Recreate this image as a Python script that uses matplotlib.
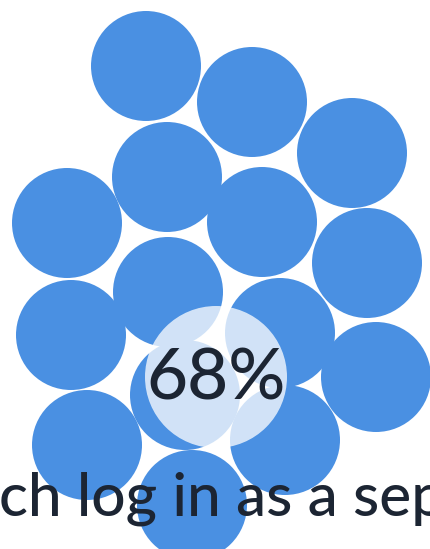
import matplotlib
matplotlib.use("Agg")
import matplotlib.pyplot as plt
from matplotlib.patches import Circle

# bubble centres (pixel coords, y down) and shared radius
cx = [146, 252, 352, 167, 67, 262, 367, 168, 71, 280, 376, 185, 87, 285, 192]
cy = [66, 102, 153, 177, 223, 222, 263, 292, 335, 333, 377, 395, 445, 440, 505]
radius = 55

# highlight bubble with the percentage
pct = 68
hl_x, hl_y, hl_r = 216, 377, 71

caption = "ch log in as a sep"

blue = "#4a90e2"
ink = "#1c2533"

fig = plt.figure(figsize=(4.30, 5.49), dpi=100)
ax = fig.add_axes([0, 0, 1, 1])
ax.set_xlim(0, 430)
ax.set_ylim(549, 0)
ax.set_aspect("equal")
ax.axis("off")

for x, y in zip(cx, cy):
    ax.add_patch(Circle((x, y), radius, facecolor=blue, edgecolor="none", zorder=1))

ax.add_patch(Circle((hl_x, hl_y), hl_r, facecolor="white", alpha=0.75,
                    edgecolor="none", zorder=2))
ax.text(hl_x, hl_y + 2, f"{pct}%", ha="center", va="center", fontsize=51,
        family="Lato", weight="medium", color=ink, zorder=3)

ax.text(-1, 515, caption, ha="left", va="baseline", fontsize=43.5,
        family="Lato", weight="medium", color=ink, zorder=4)

fig.savefig("out.png", dpi=100)
